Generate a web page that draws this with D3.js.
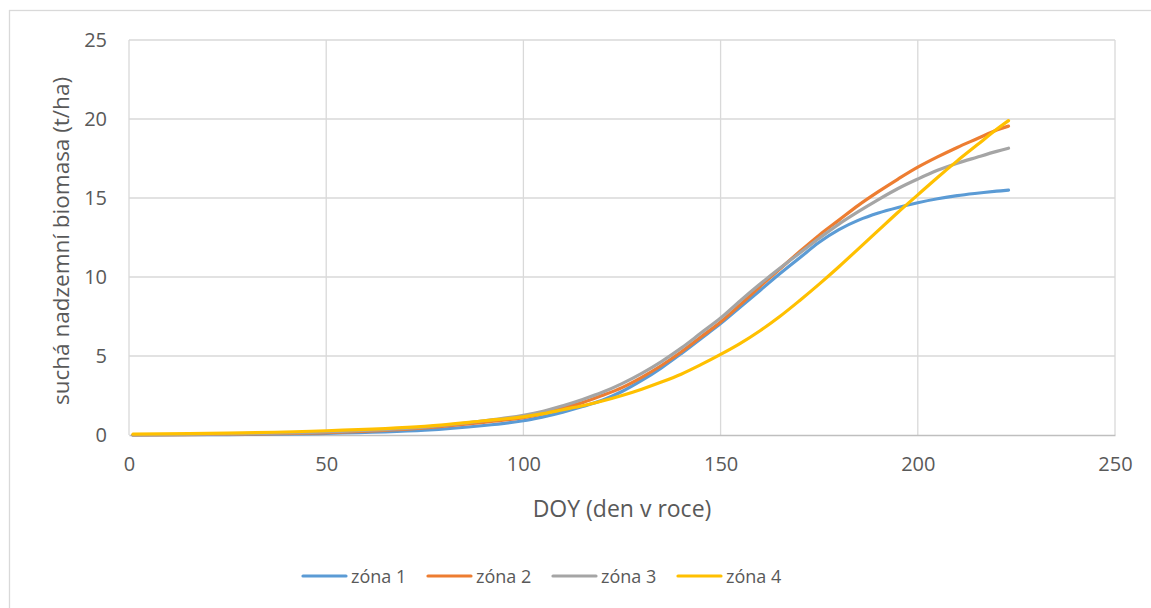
<!DOCTYPE html>
<html>
<head>
<meta charset="utf-8">
<script src="https://cdn.jsdelivr.net/npm/d3@7"></script>
<style>
  body { margin: 0; background: #fff; }
  text { font-family: "Open Sans", sans-serif; fill: #595959; }
</style>
</head>
<body>
<div id="chart"></div>
<script>
// DOY sample points
const doy = [1, 25, 50, 75, 90, 100, 105, 110, 115, 120, 125, 130, 135, 140, 145, 150, 155, 160,
  165, 170, 175, 180, 185, 190, 195, 200, 205, 210, 215, 220, 223];
const zona1 = [0.0, 0.03, 0.1, 0.3, 0.6, 0.9, 1.15, 1.45, 1.8, 2.2, 2.75, 3.45, 4.25, 5.15, 6.1, 7.05,
  8.1, 9.15, 10.2, 11.2, 12.2, 13.0, 13.6, 14.05, 14.4, 14.7, 14.95, 15.15, 15.3, 15.43, 15.5];
const zona2 = [0.0, 0.05, 0.15, 0.45, 0.8, 1.1, 1.35, 1.7, 2.05, 2.5, 3.0, 3.65, 4.4, 5.25, 6.2, 7.15,
  8.25, 9.4, 10.5, 11.6, 12.65, 13.6, 14.55, 15.4, 16.2, 16.95, 17.6, 18.2, 18.75, 19.3, 19.55];
const zona3 = [0.0, 0.07, 0.2, 0.5, 0.9, 1.25, 1.5, 1.85, 2.25, 2.7, 3.25, 3.9, 4.65, 5.5, 6.45, 7.4,
  8.5, 9.55, 10.55, 11.5, 12.45, 13.35, 14.15, 14.9, 15.6, 16.2, 16.75, 17.2, 17.58, 17.95, 18.15];
const zona4 = [0.05, 0.12, 0.27, 0.55, 0.9, 1.15, 1.35, 1.6, 1.85, 2.15, 2.5, 2.9, 3.35, 3.85, 4.45, 5.1,
  5.8, 6.6, 7.5, 8.5, 9.55, 10.65, 11.8, 12.95, 14.1, 15.2, 16.3, 17.35, 18.35, 19.35, 19.9];
const seriesNames = ["zóna 1", "zóna 2", "zóna 3", "zóna 4"];
const seriesColors = ["#5B9BD5", "#ED7D31", "#A5A5A5", "#FFC000"];
const xTicks = [0, 50, 100, 150, 200, 250];
const yTicks = [0, 5, 10, 15, 20, 25];
const xTitle = "DOY (den v roce)";
const yTitle = "suchá nadzemní biomasa (t/ha)";

const width = 1151;
const height = 608;
const plot = { left: 129, right: 1115, top: 40, bottom: 435 };

const svg = d3.select("#chart").append("svg")
  .attr("width", width)
  .attr("height", height);

// outer chart border (runs off the right and bottom edge)
svg.append("rect")
  .attr("x", 9.5).attr("y", 10.5)
  .attr("width", 1300).attr("height", 700)
  .attr("fill", "none")
  .attr("stroke", "#d9d9d9")
  .attr("stroke-width", 1.3);

let x = d3.scaleLinear().domain([0, 250]).range([plot.left, plot.right]);
let y = d3.scaleLinear().domain([0, 25]).range([plot.bottom, plot.top]);

//------------------------------------------------------------- grid
svg.append("g").selectAll("line")
  .data(yTicks.filter(d => d > 0))
  .enter().append("line")
  .attr("x1", plot.left).attr("x2", plot.right)
  .attr("y1", d => y(d)).attr("y2", d => y(d))
  .attr("stroke", "#d9d9d9").attr("stroke-width", 1.3);

svg.append("g").selectAll("line")
  .data(xTicks)
  .enter().append("line")
  .attr("x1", d => x(d)).attr("x2", d => x(d))
  .attr("y1", plot.top).attr("y2", plot.bottom)
  .attr("stroke", "#d9d9d9").attr("stroke-width", 1.3);

// horizontal axis line
let xAxis = d3.axisBottom(x).tickValues(xTicks).tickSize(0).tickPadding(22);
let xAxisG = svg.append("g")
  .attr("transform", "translate(0," + plot.bottom + ")")
  .call(xAxis);
xAxisG.select(".domain").attr("stroke", "#bfbfbf").attr("stroke-width", 1.3);
xAxisG.selectAll("text").attr("font-size", 20).attr("fill", "#595959")
  .attr("font-family", "Open Sans");

let yAxis = d3.axisLeft(y).tickValues(yTicks).tickSize(0).tickPadding(22);
let yAxisG = svg.append("g")
  .attr("transform", "translate(" + plot.left + ",0)")
  .call(yAxis);
yAxisG.select(".domain").remove();
yAxisG.selectAll("text").attr("font-size", 20).attr("fill", "#595959")
  .attr("font-family", "Open Sans");

//------------------------------------------------------------- lines
const allSeries = [zona1, zona2, zona3, zona4];
let line = d3.line()
  .x((d, i) => x(doy[i]))
  .y(d => y(d))
  .curve(d3.curveCatmullRom.alpha(0.5));

svg.append("g").selectAll("path")
  .data(allSeries)
  .enter().append("path")
  .attr("d", d => line(d))
  .attr("fill", "none")
  .attr("stroke", (d, i) => seriesColors[i])
  .attr("stroke-width", 3.2)
  .attr("stroke-linecap", "round")
  .attr("stroke-linejoin", "round");

//------------------------------------------------------------- titles
svg.append("text")
  .attr("x", (plot.left + plot.right) / 2)
  .attr("y", 508)
  .attr("text-anchor", "middle")
  .attr("dominant-baseline", "central")
  .attr("font-size", 23)
  .text(xTitle);

svg.append("text")
  .attr("transform", "translate(60,241) rotate(-90)")
  .attr("text-anchor", "middle")
  .attr("dominant-baseline", "central")
  .attr("font-size", 22.5)
  .text(yTitle);

//------------------------------------------------------------- legend
const legendX0 = 302;
const legendStep = 125;
const legendY = 576;
let legend = svg.append("g").selectAll("g")
  .data(seriesNames)
  .enter().append("g")
  .attr("transform", (d, i) => "translate(" + (legendX0 + i * legendStep) + "," + legendY + ")");

legend.append("line")
  .attr("x1", 1).attr("x2", 44)
  .attr("stroke", (d, i) => seriesColors[i])
  .attr("stroke-width", 3.2)
  .attr("stroke-linecap", "round");

legend.append("text")
  .attr("x", 49)
  .attr("dominant-baseline", "central")
  .attr("font-size", 18)
  .text(d => d);
</script>
</body>
</html>
